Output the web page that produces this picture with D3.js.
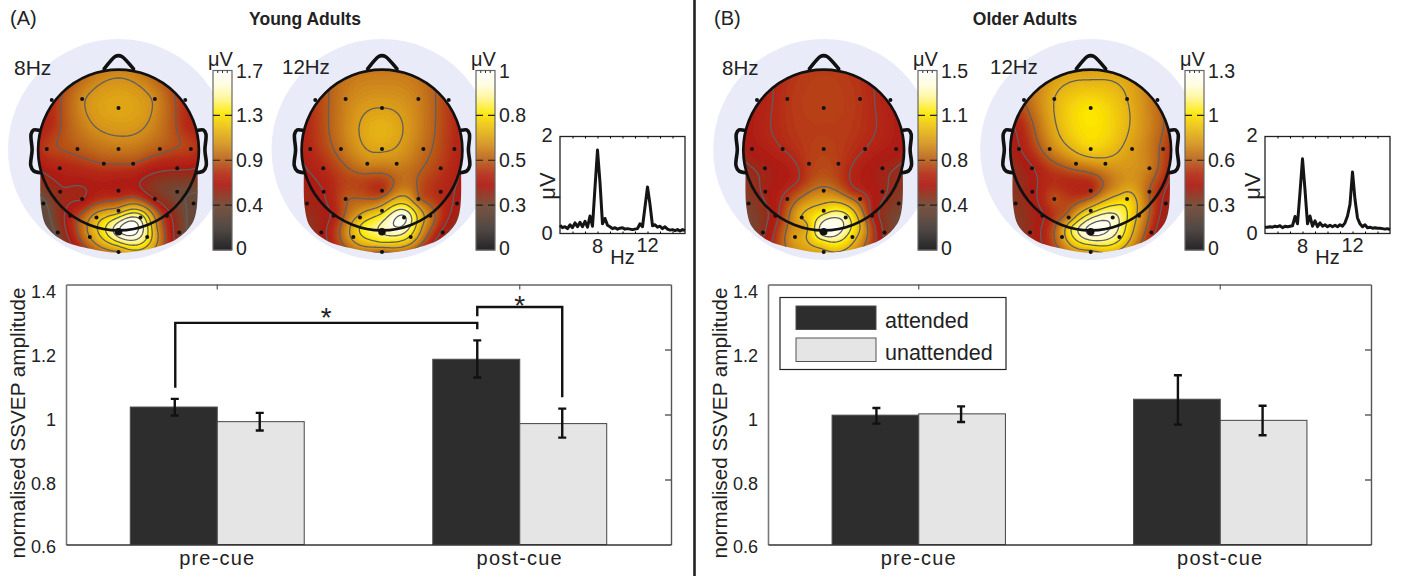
<!DOCTYPE html>
<html>
  <head>
    <meta charset="UTF-8">
    <title>SSVEP amplitude, young and older adults</title>
    <script src="https://d3js.org/d3.v7.min.js"></script>
    <style>
      body { margin: 0; background: #fff; }
      svg { display: block; }
      text { font-family: "Liberation Sans", Arial, sans-serif; fill: #222; }
    </style>
  </head>
  <body>
    <script>

// bar charts
const groups = ["pre-cue", "post-cue"];
const conditions = ["attended", "unattended"];
const barTicks = [0.6, 0.8, 1, 1.2, 1.4];

const youngMean = [[1.023, 0.978], [1.17, 0.972]];
const youngLow = [[0.997, 0.951], [1.114, 0.929]];
const youngHigh = [[1.048, 1.005], [1.228, 1.018]];

const olderMean = [[0.998, 1.002], [1.047, 0.982]];
const olderLow = [[0.972, 0.977], [0.969, 0.936]];
const olderHigh = [[1.02, 1.025], [1.121, 1.027]];

// spectra, one value every 0.2 Hz
const hz = [5, 5.2, 5.4, 5.6, 5.8, 6, 6.2, 6.4, 6.6, 6.8, 7, 7.2, 7.4, 7.6, 7.8, 8, 8.2, 8.4, 8.6, 8.8,
  9, 9.2, 9.4, 9.6, 9.8, 10, 10.2, 10.4, 10.6, 10.8, 11, 11.2, 11.4, 11.6, 11.8, 12, 12.2, 12.4, 12.6, 12.8,
  13, 13.2, 13.4, 13.6, 13.8, 14, 14.2, 14.4, 14.6, 14.8, 15];
const youngSpectrum = [0.17, 0.12, 0.14, 0.1, 0.18, 0.12, 0.22, 0.14, 0.23, 0.14, 0.25, 0.13, 0.36, 0.15, 0.95, 1.72, 1.05, 0.2, 0.31, 0.17,
  0.14, 0.1, 0.12, 0.09, 0.11, 0.12, 0.09, 0.1, 0.09, 0.08, 0.09, 0.1, 0.2, 0.14, 0.55, 0.96, 0.6, 0.16, 0.18, 0.13,
  0.15, 0.1, 0.14, 0.09, 0.07, 0.08, 0.06, 0.08, 0.05, 0.08, 0.06];
const olderSpectrum = [0.13, 0.13, 0.14, 0.13, 0.15, 0.14, 0.16, 0.12, 0.15, 0.14, 0.15, 0.16, 0.35, 0.2, 0.85, 1.54, 0.9, 0.2, 0.36, 0.15,
  0.26, 0.14, 0.22, 0.15, 0.18, 0.14, 0.17, 0.14, 0.17, 0.14, 0.18, 0.15, 0.22, 0.36, 0.6, 1.27, 0.7, 0.32, 0.2, 0.14,
  0.18, 0.12, 0.13, 0.11, 0.12, 0.11, 0.11, 0.1, 0.09, 0.1, 0.08];

// electrode layout (head centre 355,450 and radius 241)
const electrodeX = [246, 464, 355, 155, 555, 140, 232, 355, 479, 572, 179, 311, 399, 531, 180, 355, 531, 246, 464, 130, 580,
  355, 289, 421, 210, 500, 355, 173, 537, 269, 441, 355];
const electrodeY = [297, 297, 324, 300, 300, 447, 447, 447, 447, 447, 505, 491, 491, 505, 575, 572, 575, 597, 597, 610, 610,
  632, 652, 652, 647, 647, 695, 697, 697, 711, 711, 756];
// a few extra readings between the electrodes
const extraX = [355, 355, 440, 270, 390, 300, 470, 355, 150, 560, 230, 480];
const extraY = [215, 385, 575, 540, 675, 680, 680, 730, 380, 380, 235, 235];

// amplitudes in uV at electrodes then extra readings
const young8 = [0.98, 0.98, 1.08, 0.72, 0.72, 0.77, 0.84, 0.93, 0.84, 0.77, 0.68, 0.8, 0.8, 0.62, 0.58, 0.65, 0.42, 0.6, 0.6, 0.37, 0.37,
  1.1, 1.1, 1.45, 0.68, 0.68, 1.6, 0.45, 0.5, 1.0, 1.35, 1.0,
  0.97, 1.03, 0.58, 0.65, 1.7, 1.25, 1.0, 1.3,
  0.72, 0.72, 0.85, 0.85];
const young12 = [0.56, 0.56, 0.62, 0.45, 0.45, 0.42, 0.53, 0.63, 0.53, 0.42, 0.42, 0.57, 0.57, 0.45, 0.38, 0.44, 0.42, 0.49, 0.52, 0.34, 0.36,
  0.7, 0.65, 0.97, 0.4, 0.55, 0.86, 0.35, 0.36, 0.65, 0.72, 0.5,
  0.55, 0.66, 0.56, 0.47, 0.95, 0.78, 0.65, 0.72,
  0.44, 0.44, 0.53, 0.53];
const older8 = [0.66, 0.66, 0.69, 0.57, 0.57, 0.55, 0.62, 0.69, 0.62, 0.55, 0.52, 0.68, 0.68, 0.52, 0.52, 0.84, 0.52, 0.68, 0.72, 0.42, 0.42,
  1.12, 1.0, 1.27, 0.57, 0.6, 1.45, 0.48, 0.48, 0.93, 1.08, 0.97,
  0.68, 0.68, 0.67, 0.6, 1.45, 0.95, 0.95, 1.1,
  0.58, 0.58, 0.64, 0.64];
const older12 = [0.85, 0.85, 0.98, 0.65, 0.68, 0.49, 0.72, 0.93, 0.8, 0.62, 0.49, 0.73, 0.8, 0.72, 0.47, 0.55, 0.65, 0.62, 0.94, 0.39, 0.46,
  0.94, 0.72, 1.17, 0.49, 0.81, 1.26, 0.43, 0.55, 0.78, 1.04, 0.81,
  0.81, 0.98, 0.81, 0.55, 1.26, 1.01, 0.94, 1.04,
  0.55, 0.68, 0.78, 0.8];

// colour bars
const young8Labels = ["1.7", "1.3", "0.9", "0.4", "0"];
const young12Labels = ["1", "0.8", "0.5", "0.3", "0"];
const older8Labels = ["1.5", "1.1", "0.8", "0.4", "0"];
const older12Labels = ["1.3", "1", "0.6", "0.3", "0"];

const colormapStops = [0, 0.12, 0.24, 0.3, 0.36, 0.42, 0.5, 0.6, 0.7, 0.76, 0.85, 0.92, 1];
const colormapColors = ["#272727", "#4c4440", "#6f4a38", "#8a3520", "#ae1a12", "#b52a14", "#b9601a", "#d8981a", "#f0c810", "#fde900", "#fff69a", "#fffde0", "#ffffff"];

const svg = d3.select("body").append("svg")
  .attr("width", 1403)
  .attr("height", 576);

const soft = svg.append("defs").append("filter").attr("id", "soft");
soft.append("feGaussianBlur").attr("stdDeviation", 0.6);

// thin plate spline through the readings, evaluated on a grid for d3.contours
function fitSurface(px, py, values) {
  const n = px.length;
  const size = n + 3;
  const u = (a, b) => {
    const r2 = ((px[a] - b[0]) ** 2 + (py[a] - b[1]) ** 2) / (241 * 241);
    return r2 > 0 ? 0.5 * r2 * Math.log(r2) : 0;
  };
  const m = d3.range(size).map(() => new Array(size + 1).fill(0));
  for (let i = 0; i < n; i++) {
    for (let j = 0; j < n; j++) m[i][j] = u(i, [px[j], py[j]]);
    const row = [1, (px[i] - 355) / 241, (py[i] - 450) / 241];
    row.forEach((v, k) => { m[i][n + k] = v; m[n + k][i] = v; });
    m[i][size] = values[i];
  }
  for (let c = 0; c < size; c++) {
    let best = c;
    for (let r = c + 1; r < size; r++) if (Math.abs(m[r][c]) > Math.abs(m[best][c])) best = r;
    [m[c], m[best]] = [m[best], m[c]];
    for (let r = 0; r < size; r++) {
      if (r === c) continue;
      const f = m[r][c] / m[c][c];
      if (f !== 0) for (let k = c; k <= size; k++) m[r][k] -= f * m[c][k];
    }
  }
  const w = m.map((row, i) => row[size] / row[i]);
  return (x, y) => {
    let s = w[n] + w[n + 1] * (x - 355) / 241 + w[n + 2] * (y - 450) / 241;
    for (let i = 0; i < n; i++) s += w[i] * u(i, [x, y]);
    return s;
  };
}

function drawTopo(id, cx, values, maxValue, levels, freqLabel, labelX, labelY, labelSize) {
  const cy = 150;
  const r = 80.4;
  const x = d3.scaleLinear().domain([114, 596]).range([cx - r, cx + r]);
  const y = d3.scaleLinear().domain([209, 691]).range([cy - r, cy + r]);
  const g = svg.append("g");

  g.append("circle")
    .attr("cx", cx).attr("cy", cy - 0.5).attr("r", 110.5)
    .attr("fill", "#e9ecf8");

  // scalp outline used as clip: head circle plus the lower back of the head
  const line = d3.line().x(d => x(d[0])).y(d => y(d[1]));
  const lowerHead = [[123, 450], [123, 620], [140, 680], [190, 722], [270, 746], [355, 758], [450, 746], [530, 716], [575, 672], [590, 620], [590, 450]];
  const clip = g.append("clipPath").attr("id", "scalp" + id);
  clip.append("circle").attr("cx", cx).attr("cy", cy).attr("r", r);
  clip.append("path").attr("d", line.curve(d3.curveCatmullRom)(lowerHead) + "Z");

  const surfaceX = electrodeX.concat(extraX);
  const surfaceY = electrodeY.concat(extraY);
  const surface = fitSurface(surfaceX, surfaceY, values);
  const step = 5;
  const nx = 104;
  const ny = 116;
  const grid = new Array(nx * ny);
  for (let j = 0; j < ny; j++) {
    for (let i = 0; i < nx; i++) {
      grid[j * nx + i] = Math.max(0, Math.min(maxValue, surface(100 + i * step, 200 + j * step)));
    }
  }
  const path = d3.geoPath(d3.geoTransform({
    point(px, py) {
      this.stream.point(x(100 + (px - 0.5) * step), y(200 + (py - 0.5) * step));
    }
  }));
  const color = d3.scaleLinear().domain(colormapStops.map(d => d * maxValue)).range(colormapColors);
  const map = g.append("g").attr("clip-path", "url(#scalp" + id + ")");

  map.append("g")
    .attr("filter", "url(#soft)")
    .selectAll("path")
    .data(d3.contours().size([nx, ny]).thresholds(d3.range(0, maxValue, maxValue / 110))(grid))
    .enter()
    .append("path")
    .attr("d", path)
    .attr("fill", d => color(d.value));

  map.selectAll("path.iso")
    .data(d3.contours().size([nx, ny]).thresholds(levels)(grid))
    .enter()
    .append("path")
    .attr("class", "iso")
    .attr("d", path)
    .attr("fill", "none")
    .attr("stroke", "#5f5f5f")
    .attr("stroke-width", 1.3);

  // nose and ears
  const outline = g.append("g")
    .attr("fill", "none")
    .attr("stroke", "#111")
    .attr("stroke-width", 3.6)
    .attr("stroke-linejoin", "round")
    .attr("stroke-linecap", "round");
  const nose = [[312, 207], [345, 170], [355, 167], [365, 170], [400, 207]];
  const earLeft = [[117, 391], [101, 390], [93, 402], [96, 450], [92, 497], [101, 513], [121, 518]];
  const earRight = earLeft.map(d => [710 - d[0], d[1]]);
  [nose, earLeft, earRight].forEach(d => {
    outline.append("path").attr("d", line.curve(d3.curveCatmullRom)(d));
  });
  outline.append("circle").attr("cx", cx).attr("cy", cy).attr("r", r).attr("stroke-width", 2.7);

  g.selectAll("circle.electrode")
    .data(electrodeX)
    .enter()
    .append("circle")
    .attr("class", "electrode")
    .attr("cx", d => x(d))
    .attr("cy", (d, i) => y(electrodeY[i]))
    .attr("r", (d, i) => i === 26 ? 3.8 : 2)
    .attr("fill", "#111");

  g.append("text")
    .attr("x", labelX).attr("y", labelY)
    .attr("font-size", labelSize)
    .text(freqLabel);
}

function drawColorbar(x0, maxValue, labels) {
  const w = 19;
  const y = d3.scaleLinear().domain([0, maxValue]).range([250, 70.5]);
  const color = d3.scaleLinear().domain(colormapStops.map(d => d * maxValue)).range(colormapColors);
  const g = svg.append("g");

  g.selectAll("rect")
    .data(d3.range(0, maxValue, maxValue / 180))
    .enter()
    .append("rect")
    .attr("x", x0)
    .attr("y", d => y(d + maxValue / 180))
    .attr("width", w)
    .attr("height", 1.4)
    .attr("fill", d => color(d));

  g.append("rect")
    .attr("x", x0).attr("y", 70.5).attr("width", w).attr("height", 179.5)
    .attr("fill", "none").attr("stroke", "#666").attr("stroke-width", 1.2);

  const tickPositions = [1, 0.75, 0.5, 0.25, 0];
  tickPositions.forEach((t, i) => {
    const ty = y(t * maxValue);
    if (t > 0 && t < 1) {
      g.append("path")
        .attr("d", "M" + x0 + "," + ty + "h7M" + (x0 + w - 7) + "," + ty + "h7")
        .attr("stroke", "#222").attr("stroke-width", 1.2);
    }
    g.append("text")
      .attr("x", x0 + w + 4)
      .attr("y", i === 4 ? ty - 2 : ty)
      .attr("dy", "0.36em")
      .attr("font-size", 19.5)
      .text(labels[i]);
  });
  [0.25, 0.5, 0.75].forEach(t => {
    g.append("path")
      .attr("d", "M" + (x0 + w * t) + ",70.5v2.5")
      .attr("stroke", "#333").attr("stroke-width", 1);
  });

  g.append("text")
    .attr("x", x0 + w / 2 - 2).attr("y", 66)
    .attr("text-anchor", "middle")
    .attr("font-size", 20)
    .text("\u03bcV");
}

function drawSpectrum(x0, values) {
  const x = d3.scaleLinear().domain([5, 15]).range([x0, x0 + 125]);
  const y = d3.scaleLinear().domain([0, 2]).range([233.5, 136.5]);
  const g = svg.append("g");

  g.append("rect")
    .attr("x", x0).attr("y", 136.5).attr("width", 125).attr("height", 97)
    .attr("fill", "#fff").attr("stroke", "#222").attr("stroke-width", 1.3);

  g.append("g")
    .attr("transform", "translate(0,136.5)")
    .call(d3.axisTop(x).tickValues(d3.range(6, 15)).tickSize(-2).tickFormat(""))
    .call(a => a.select(".domain").remove());
  g.append("g")
    .attr("transform", "translate(0,233.5)")
    .call(d3.axisBottom(x).tickValues(d3.range(6, 15)).tickSize(-2).tickFormat(""))
    .call(a => a.select(".domain").remove());

  g.append("path")
    .attr("d", d3.line().x((d, i) => x(hz[i])).y(d => y(d))(values))
    .attr("fill", "none")
    .attr("stroke", "#151515")
    .attr("stroke-width", 3)
    .attr("stroke-linejoin", "round");

  const label = (tx, ty, s) => g.append("text")
    .attr("x", tx).attr("y", ty).attr("dy", "0.36em")
    .attr("text-anchor", "middle").attr("font-size", 20).text(s);
  label(x0 - 13, 135, "2");
  label(x0 - 13, 233, "0");
  label(x(8), 246, "8");
  label(x(12), 245, "12");
  label(x(10), 257, "Hz");
  g.append("text")
    .attr("transform", "translate(" + (x0 - 5) + ",186) rotate(-90)")
    .attr("text-anchor", "middle")
    .attr("font-size", 22)
    .text("\u03bcV");
}

function drawBars(left, right, mean, low, high, labelX) {
  const top = 284.5;
  const bottom = 544.5;
  const x0 = d3.scaleBand().domain(groups).range([left, right]).paddingInner(0.425).paddingOuter(0.2125);
  const x1 = d3.scaleBand().domain(conditions).range([0, x0.bandwidth()]);
  const y = d3.scaleLinear().domain([0.6, 1.4]).range([bottom, top]);
  const g = svg.append("g");
  const fmt = d => d === 1 ? "1" : d3.format(".1f")(d);

  const cells = [];
  groups.forEach((grp, i) => conditions.forEach((c, j) => {
    cells.push({ grp: grp, cond: c, mean: mean[i][j], low: low[i][j], high: high[i][j] });
  }));

  g.selectAll("rect")
    .data(cells)
    .enter()
    .append("rect")
    .attr("x", d => x0(d.grp) + x1(d.cond))
    .attr("y", d => y(d.mean))
    .attr("width", x1.bandwidth())
    .attr("height", d => y(0.6) - y(d.mean))
    .attr("fill", d => d.cond === "attended" ? "#2d2d2d" : "#e5e5e5")
    .attr("stroke", d => d.cond === "attended" ? "#4a4a4a" : "#444")
    .attr("stroke-width", 1);

  const errX = d => x0(d.grp) + x1(d.cond) + x1.bandwidth() / 2 + (d.cond === "attended" ? 1 : -1);
  g.selectAll("path.err")
    .data(cells)
    .enter()
    .append("path")
    .attr("class", "err")
    .attr("d", d => "M" + (errX(d) - 4) + "," + y(d.high) + "h8M" + errX(d) + "," + y(d.high) +
      "V" + y(d.low) + "M" + (errX(d) - 4) + "," + y(d.low) + "h8")
    .attr("fill", "none")
    .attr("stroke", "#111")
    .attr("stroke-width", 2.4);

  // axes
  const labelShift = d3.scaleLinear().domain([0.6, 1.4]).range([2.5, 7.5]);
  g.append("g")
    .attr("transform", "translate(" + left + ",0)")
    .call(d3.axisLeft(y).tickValues(barTicks).tickSize(0).tickPadding(10).tickFormat(fmt))
    .call(a => a.select(".domain").attr("stroke", "#777").attr("stroke-width", 1.6))
    .call(a => a.selectAll("text").attr("font-size", 18).attr("fill", "#222")
      .attr("font-family", "Liberation Sans")
      .attr("transform", d => "translate(0," + labelShift(d) + ")"));
  g.append("g")
    .attr("transform", "translate(" + right + ",0)")
    .call(d3.axisRight(y).tickValues(barTicks.slice(1, 4)).tickSize(-6).tickSizeOuter(0).tickFormat(""))
    .call(a => a.selectAll("path,line").attr("stroke", "#555").attr("stroke-width", 1.4));
  g.append("g")
    .attr("transform", "translate(0," + top + ")")
    .call(d3.axisTop(d3.scaleLinear().domain([0, 1]).range([left, right])).tickValues([]).tickSize(0).tickSizeOuter(0))
    .call(a => a.selectAll("path").attr("stroke", "#666").attr("stroke-width", 1.4));
  groups.forEach(grp => {
    g.append("path")
      .attr("d", "M" + (x0(grp) + x0.bandwidth() / 2) + "," + top + "v5")
      .attr("stroke", "#555").attr("stroke-width", 1.2);
  });
  g.append("g")
    .attr("transform", "translate(0," + bottom + ")")
    .call(d3.axisBottom(x0).tickSize(0).tickSizeOuter(0).tickPadding(6))
    .call(a => a.select(".domain").attr("stroke", "#333").attr("stroke-width", 1.4))
    .call(a => a.selectAll("text").attr("font-size", 20).attr("fill", "#222")
      .attr("font-family", "Liberation Sans").attr("letter-spacing", 1.2));

  g.append("text")
    .attr("transform", "translate(" + labelX + ",423) rotate(-90)")
    .attr("text-anchor", "middle")
    .attr("font-size", 20.7)
    .text("normalised SSVEP amplitude");

  return { g: g, x0: x0, x1: x1, y: y };
}

// top row
drawTopo("a8", 118.5, young8, 1.7, [0.4, 0.6, 0.8, 1.0, 1.2, 1.35, 1.5, 1.62], "8Hz", 14, 75, 21);
drawColorbar(213, 1.7, young8Labels);
drawTopo("a12", 382, young12, 1, [0.38, 0.5, 0.62, 0.74, 0.85, 0.95], "12Hz", 282, 74, 20.5);
drawColorbar(476, 1, young12Labels);
drawSpectrum(560, youngSpectrum);

drawTopo("b8", 823.7, older8, 1.5, [0.5, 0.62, 0.8, 1, 1.2, 1.35], "8Hz", 722, 75, 20.5);
drawColorbar(918, 1.5, older8Labels);
drawTopo("b12", 1090.7, older12, 1.3, [0.5, 0.65, 0.85, 1, 1.12, 1.22], "12Hz", 990, 74, 20.5);
drawColorbar(1185, 1.3, older12Labels);
drawSpectrum(1265, olderSpectrum);

// bottom row
const young = drawBars(66, 671, youngMean, youngLow, youngHigh, 25);
const older = drawBars(768, 1371, olderMean, olderLow, olderHigh, 727);

// significance brackets, heights in axis units
const yy = young.y;
const bracket = d3.line().x(d => d[0]).y(d => yy(d[1]));
const xPreAtt = young.x0("pre-cue") + young.x1("attended") + young.x1.bandwidth() / 2 + 1.5;
const xPostAtt = young.x0("post-cue") + young.x1("attended") + young.x1.bandwidth() / 2 + 1;
const xPostUn = young.x0("post-cue") + young.x1("unattended") + young.x1.bandwidth() / 2 - 1;
[
  [[xPreAtt, 1.082], [xPreAtt, 1.282], [xPostAtt, 1.282], [xPostAtt, 1.262]],
  [[xPostAtt, 1.302], [xPostAtt, 1.331], [xPostUn, 1.331], [xPostUn, 1.053]]
].forEach(pts => {
  svg.append("path")
    .attr("d", bracket(pts))
    .attr("fill", "none")
    .attr("stroke", "#111")
    .attr("stroke-width", 2.4);
});
[[(xPreAtt + xPostAtt) / 2, 1.27], [(xPostAtt + xPostUn) / 2, 1.306]].forEach(d => {
  svg.append("text")
    .attr("x", d[0]).attr("y", yy(d[1]))
    .attr("text-anchor", "middle")
    .attr("font-size", 28)
    .text("*");
});

// legend
const legend = svg.append("g");
legend.append("rect")
  .attr("x", 780).attr("y", 297.5).attr("width", 226).attr("height", 72)
  .attr("fill", "#fff").attr("stroke", "#222").attr("stroke-width", 1.2);
conditions.forEach((c, i) => {
  legend.append("rect")
    .attr("x", 796).attr("y", i === 0 ? 306 : 338).attr("width", 80).attr("height", 23.5)
    .attr("fill", c === "attended" ? "#2d2d2d" : "#e5e5e5")
    .attr("stroke", c === "attended" ? "#4a4a4a" : "#555");
  legend.append("text")
    .attr("x", 885).attr("y", i === 0 ? 320 : 352)
    .attr("dy", "0.36em")
    .attr("font-size", 21.5)
    .text(c);
});

// panel titles and divider
svg.append("text").attr("x", 10).attr("y", 25).attr("font-size", 20).text("(A)");
svg.append("text").attr("x", 714).attr("y", 25).attr("font-size", 20).text("(B)");
svg.append("text").attr("x", 305).attr("y", 25)
  .attr("text-anchor", "middle").attr("font-size", 17.5).attr("font-weight", "bold").text("Young Adults");
svg.append("text").attr("x", 1025).attr("y", 25)
  .attr("text-anchor", "middle").attr("font-size", 17.5).attr("font-weight", "bold").text("Older Adults");
svg.append("line")
  .attr("x1", 694.5).attr("x2", 694.5).attr("y1", 0).attr("y2", 576)
  .attr("stroke", "#222").attr("stroke-width", 2.6);

    </script>
  </body>
</html>
